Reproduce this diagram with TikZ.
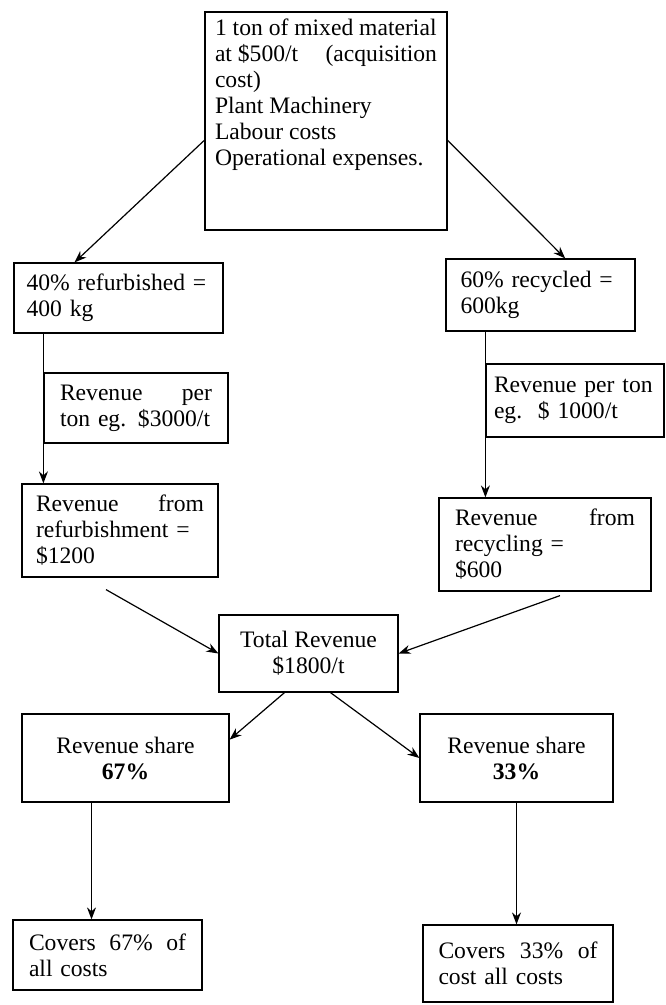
\documentclass[tikz,border=0pt]{standalone}
\usepackage{fontspec}
\setmainfont{Liberation Serif}
\usetikzlibrary{arrows.meta}

\begin{document}
\begin{tikzpicture}[x=0.5pt, y=-0.5pt, >={Stealth[length=6pt,width=4.5pt]},
      font=\fontsize{11.8}{13}\selectfont,
      block/.style={draw, rectangle, line width=0.6pt, inner sep=0pt, align=left},
      link/.style={->, line width=0.6pt}]
    \useasboundingbox (0,0) rectangle (665,1005);

    \node[block, minimum width=121pt, minimum height=109pt] (top) at (326,121) {\parbox[t][102pt][t]{111pt}{1 ton of mixed material\\ at \$500/t\hfill(acquisition\\ cost)\\ Plant Machinery\\ Labour costs\\ Operational expenses.}};

    \node[block, minimum width=104.5pt, minimum height=35pt, text width=92pt] (ref40) at (118.5,298) {40\% refurbished =\\400 kg};
    \node[block, minimum width=94.5pt, minimum height=36pt, text width=80pt] (rec60) at (540.5,295) {60\% recycled =\\600kg};

    \node[block, minimum width=92pt, minimum height=35pt, text width=76pt] (revA) at (136,408) {Revenue\hfill per\\ton eg. \$3000/t};
    \node[block, minimum width=89pt, minimum height=36.5pt, text width=81pt] (revB) at (575,400.5) {Revenue per ton\\eg.\ \ \$ 1000/t};

    \node[block, minimum width=98pt, minimum height=46.5pt, text width=84pt] (refRev) at (120,530.5) {Revenue\hfill from\\refurbishment =\\\$1200};
    \node[block, minimum width=106pt, minimum height=46.5pt, text width=90pt] (recRev) at (545,544.5) {Revenue\hfill from\\recycling =\\\$600};

    \node[block, align=center, minimum width=89.5pt, minimum height=38.5pt] (total) at (308.5,653.5) {Total Revenue\\\$1800/t};

    \node[block, align=center, minimum width=103.5pt, minimum height=44pt] (share67) at (125.5,758) {Revenue share\\\textbf{67\%}};
    \node[block, align=center, minimum width=96.5pt, minimum height=44pt] (share33) at (516.5,758) {Revenue share\\\textbf{33\%}};

    \node[block, minimum width=94.5pt, minimum height=35pt, text width=78.5pt] (cov67) at (107.5,955) {Covers\hfill 67\%\hfill of\\all costs};
    \node[block, minimum width=95pt, minimum height=38.5pt, text width=79.5pt] (cov33) at (518,963.5) {Covers\hfill 33\%\hfill of\\cost all costs};

    \draw[link] (top.189) -- (ref40.141);
    \draw[link] (top.351) -- (rec60.56);
    \draw[link] (revA.west |- ref40.south) -- (revA.west |- refRev.north);
    \draw[link] (revB.west |- rec60.south) -- (revB.west |- recRev.north);
    \draw[link] ([xshift=-7pt,yshift=-6pt]refRev.south) -- (total.west);
    \draw[link] ([xshift=7.5pt,yshift=-2pt]recRev.south) -- (total.east);
    \draw[link] ([xshift=-12pt]total.south) -- (share67.10);
    \draw[link] ([xshift=11pt]total.south) -- (share33.west);
    \coordinate (drop67) at ([xshift=-8pt]cov67.north);
    \draw[link] (drop67 |- share67.south) -- (drop67);
    \draw[link] (share33.south) -- (share33.south |- cov33.north);
  \end{tikzpicture}
\end{document}
